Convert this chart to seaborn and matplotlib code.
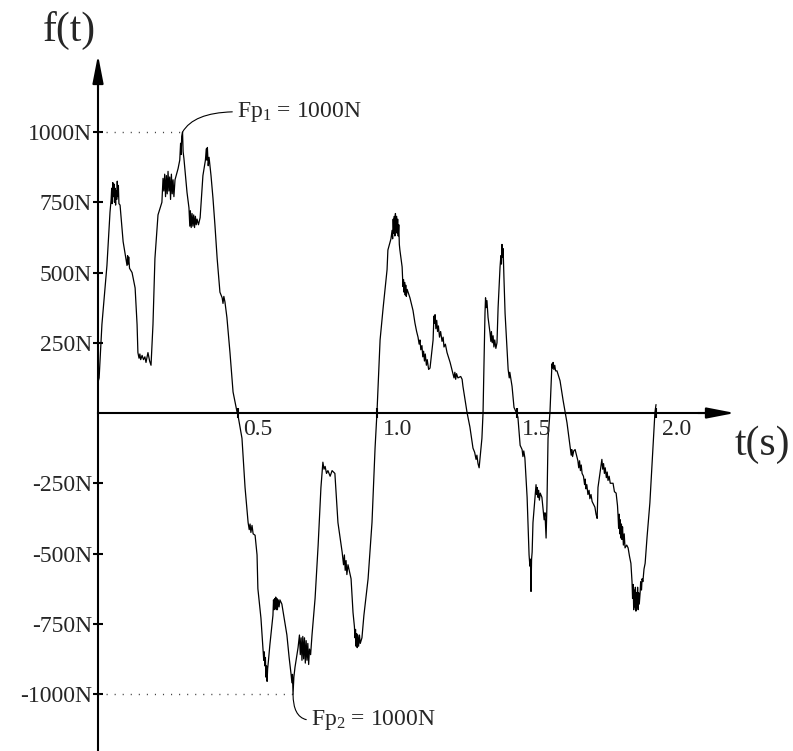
import numpy as np
import matplotlib
matplotlib.use('agg')
import matplotlib.pyplot as plt
import seaborn as sns

# force signal (time in s, force in N)
time_s = [
    0.000, 0.004, 0.014, 0.032, 0.043, 0.047, 0.049, 0.051, 0.053, 0.055,
    0.057, 0.059, 0.061, 0.063, 0.065, 0.067, 0.069, 0.071, 0.073, 0.075,
    0.079, 0.090, 0.104, 0.106, 0.108, 0.110, 0.113, 0.122, 0.133, 0.140,
    0.143, 0.147, 0.150, 0.153, 0.158, 0.163, 0.168, 0.172, 0.179, 0.185,
    0.190, 0.197, 0.204, 0.215, 0.229, 0.233, 0.236, 0.239, 0.242, 0.245,
    0.248, 0.251, 0.254, 0.257, 0.260, 0.263, 0.266, 0.269, 0.272, 0.276,
    0.287, 0.293, 0.296, 0.298, 0.300, 0.303, 0.305, 0.308, 0.319, 0.326,
    0.329, 0.331, 0.334, 0.337, 0.340, 0.343, 0.346, 0.349, 0.352, 0.355,
    0.360, 0.366, 0.376, 0.385, 0.388, 0.390, 0.392, 0.395, 0.398, 0.405,
    0.412, 0.419, 0.427, 0.437, 0.445, 0.448, 0.451, 0.455, 0.462, 0.473,
    0.484, 0.498,
    0.502, 0.516, 0.527, 0.538, 0.542, 0.545, 0.548, 0.552, 0.556, 0.563,
    0.570, 0.573, 0.584, 0.591, 0.594, 0.596, 0.598, 0.600, 0.602, 0.604,
    0.606, 0.608, 0.611, 0.616, 0.627, 0.629, 0.631, 0.633, 0.635, 0.637,
    0.639, 0.641, 0.643, 0.646, 0.649, 0.652, 0.659, 0.667, 0.677, 0.685,
    0.692, 0.695, 0.697, 0.699, 0.702, 0.706, 0.717, 0.722, 0.725, 0.728,
    0.731, 0.734, 0.737, 0.740, 0.743, 0.746, 0.749, 0.752, 0.755, 0.758,
    0.762, 0.767, 0.778, 0.789, 0.799, 0.806, 0.810, 0.814, 0.819, 0.824,
    0.832, 0.839, 0.849, 0.860, 0.875, 0.880, 0.883, 0.886, 0.889, 0.892,
    0.896, 0.907, 0.914, 0.919, 0.921, 0.923, 0.925, 0.927, 0.929, 0.931,
    0.934, 0.937, 0.940, 0.946, 0.953, 0.968, 0.982, 0.993, 1.000,
    1.011, 1.022, 1.036, 1.039, 1.050, 1.054, 1.056, 1.058, 1.060, 1.062,
    1.064, 1.066, 1.068, 1.070, 1.072, 1.074, 1.076, 1.078, 1.080, 1.082,
    1.090, 1.093, 1.095, 1.097, 1.099, 1.101, 1.103, 1.105, 1.108, 1.118,
    1.129, 1.136, 1.142, 1.147, 1.151, 1.154, 1.157, 1.161, 1.164, 1.167,
    1.170, 1.173, 1.177, 1.180, 1.185, 1.190, 1.201, 1.204, 1.206, 1.208,
    1.211, 1.214, 1.217, 1.220, 1.224, 1.228, 1.233, 1.237, 1.240, 1.245,
    1.251, 1.262, 1.272, 1.276, 1.279, 1.282, 1.285, 1.290, 1.300, 1.305,
    1.308, 1.323, 1.333, 1.344, 1.350, 1.355, 1.358, 1.362, 1.366, 1.376,
    1.380, 1.387, 1.389, 1.391, 1.394, 1.398, 1.405, 1.408, 1.410, 1.413,
    1.416, 1.419, 1.422, 1.426, 1.430, 1.434, 1.441, 1.444, 1.446, 1.448,
    1.450, 1.452, 1.455, 1.459, 1.470, 1.474, 1.476, 1.484, 1.491, 1.500,
    1.505, 1.513, 1.520, 1.523, 1.526, 1.530, 1.538, 1.545, 1.548, 1.550,
    1.552, 1.554, 1.556, 1.559, 1.570, 1.572, 1.574, 1.577, 1.579, 1.582,
    1.585, 1.591, 1.596, 1.599, 1.602, 1.606, 1.609, 1.613, 1.620, 1.627,
    1.629, 1.631, 1.634, 1.637, 1.640, 1.645, 1.656, 1.667, 1.681, 1.692,
    1.696, 1.698, 1.701, 1.705, 1.710, 1.720, 1.723, 1.726, 1.729, 1.732,
    1.735, 1.740, 1.744, 1.746, 1.749, 1.752, 1.756, 1.760, 1.763, 1.767,
    1.771, 1.781, 1.785, 1.789, 1.792, 1.806, 1.809, 1.812, 1.815, 1.818,
    1.822, 1.825, 1.828, 1.832, 1.836, 1.846, 1.851, 1.857, 1.862, 1.864,
    1.866, 1.868, 1.870, 1.872, 1.874, 1.876, 1.878, 1.880, 1.883, 1.886,
    1.889, 1.895, 1.900, 1.905, 1.910, 1.914, 1.916, 1.918, 1.920, 1.922,
    1.924, 1.926, 1.928, 1.930, 1.932, 1.934, 1.936, 1.938, 1.940, 1.943,
    1.945, 1.948, 1.950, 1.953, 1.957, 1.961, 1.968, 1.978, 1.986, 1.996,
    2.000,
]
force_n = [
    110, 125, 315, 525, 715, 760, 800, 745, 820, 770,
    815, 750, 800, 740, 790, 760, 825, 770, 810, 745,
    740, 610, 525, 560, 530, 555, 515, 500, 445, 315,
    215, 195, 210, 190, 205, 190, 200, 180, 215, 185,
    170, 315, 550, 705, 750, 835, 790, 850, 770, 845,
    780, 860, 790, 840, 760, 850, 780, 830, 770, 830,
    870, 900, 960, 920, 985, 1000, 930, 905, 785, 730,
    665, 720, 660, 710, 665, 705, 660, 700, 670, 690,
    670, 695, 845, 900, 940, 900, 945, 880, 910, 845,
    765, 670, 550, 430, 410, 390, 415, 395, 340, 215,
    75, 5,
    -10, -90, -265, -390, -415, -395, -425, -400, -430, -435,
    -505, -625, -730, -835, -880, -850, -900, -870, -940, -900,
    -955, -910, -880, -825, -720, -665, -700, -660, -695, -655,
    -700, -660, -700, -665, -690, -665, -680, -730, -790, -870,
    -930, -960, -930, -1000, -940, -905, -835, -790, -860, -800,
    -880, -795, -875, -800, -890, -810, -880, -820, -895, -840,
    -860, -790, -660, -470, -265, -175, -200, -190, -215, -205,
    -225, -205, -215, -390, -495, -540, -505, -560, -525, -575,
    -540, -590, -710, -760, -800, -770, -830, -785, -835, -790,
    -830, -790, -820, -800, -720, -590, -390, -125, 5,
    260, 375, 510, 580, 620, 650, 620, 690, 640, 700,
    630, 710, 650, 700, 640, 690, 630, 670, 600, 580,
    520, 450, 475, 430, 465, 420, 455, 415, 440, 410,
    365, 320, 290, 270, 245, 260, 225, 240, 200, 220,
    185, 210, 170, 190, 155, 160, 260, 345, 320, 350,
    300, 330, 290, 310, 270, 290, 255, 270, 235, 245,
    215, 180, 140, 125, 145, 120, 140, 125, 130, 120,
    95, 0, -50, -125, -140, -165, -150, -180, -195, -90,
    0, 355, 410, 375, 400, 340, 285, 255, 290, 250,
    275, 235, 260, 230, 250, 375, 520, 560, 530, 600,
    555, 585, 480, 355, 155, 125, 145, 95, 20, 0,
    -15, -115, -130, -155, -135, -160, -300, -505, -545, -520,
    -635, -520, -495, -390, -255, -290, -265, -300, -275, -310,
    -285, -300, -350, -380, -355, -445, -330, -90, 5, 175,
    160, 180, 155, 170, 150, 150, 115, 45, -35, -120,
    -150, -130, -155, -135, -130, -170, -195, -170, -205, -185,
    -215, -225, -255, -235, -270, -255, -290, -275, -305, -290,
    -315, -335, -360, -375, -265, -165, -200, -180, -215, -195,
    -230, -210, -240, -225, -250, -250, -280, -285, -330, -365,
    -410, -360, -430, -380, -445, -395, -450, -405, -470, -430,
    -480, -470, -480, -510, -535, -600, -660, -610, -700, -630,
    -690, -620, -705, -640, -690, -620, -700, -640, -680, -640,
    -600, -630, -590, -600, -555, -535, -440, -320, -180, 0,
    30,
]
assert len(time_s) == len(force_n)

x_ticks = [0.5, 1.0, 1.5, 2.0]
x_labels = ['0.5', '1.0', '1.5', '2.0']
y_ticks = [-1000, -750, -500, -250, 250, 500, 750, 1000]
y_labels = ['-1000N', '-750N', '-500N', '-250N', '250N', '500N', '750N', '1000N']

sns.set_style("white")
plt.rcParams['font.family'] = ['Liberation Serif', 'DejaVu Serif']
plt.rcParams['mathtext.fontset'] = 'custom'
plt.rcParams['mathtext.rm'] = 'Liberation Serif'
plt.rcParams['mathtext.it'] = 'Liberation Serif:italic'

fig = plt.figure(figsize=(7.93, 7.51), dpi=100)
ax = fig.add_axes([0, 0, 1, 1])
ax.set_facecolor('white')

sns.lineplot(x=time_s, y=force_n, color='black', lw=0.9, ax=ax,
             estimator=None, sort=False)
ax.set_xlim(-0.3513, 2.491)
ax.set_ylim(-1202.8, 1469.8)

# axes through the origin with arrows
for s in ['top', 'right']:
    ax.spines[s].set_visible(False)
ax.spines['left'].set_position(('data', 0))
ax.spines['bottom'].set_position(('data', 0))
ax.spines['left'].set_bounds(-1210, 1200)
ax.spines['bottom'].set_bounds(0, 2.2)
for s in ['left', 'bottom']:
    ax.spines[s].set_linewidth(1.5)
    ax.spines[s].set_color('black')

arrow = dict(arrowstyle='-|>,head_length=1.7,head_width=0.33', color='black',
             lw=1.5, mutation_scale=10, shrinkA=0, shrinkB=0)
ax.annotate('', xy=(0, 1274), xytext=(0, 1150), arrowprops=arrow)
ax.annotate('', xy=(2.283, 0), xytext=(2.15, 0), arrowprops=arrow)

ax.set_xticks(x_ticks)
ax.set_xticklabels([])
ax.set_yticks(y_ticks)
ax.set_yticklabels(y_labels, fontsize=17)
ax.tick_params(bottom=True, left=True, direction='inout', length=7,
               width=1.5, color='black', pad=1)
for v, lbl in zip(x_ticks, x_labels):
    ax.annotate(lbl, xy=(v, 0), xytext=(4, -4), textcoords='offset points',
                ha='left', va='top', fontsize=17)

fig.text(43 / 793, 1 - 11 / 751, 'f(t)', ha='left', va='top', fontsize=30)
fig.text(735 / 793, 1 - 426 / 751, 't(s)', ha='left', va='top', fontsize=30)

# peak markers
f = np.array(force_n)
t = np.array(time_s)
i_max, i_min = np.argmax(f), np.argmin(f)
dots = dict(ls=(0, (0.8, 5)), color='#444444', lw=1.0)
ax.plot([0, t[i_max]], [f[i_max], f[i_max]], **dots)
ax.plot([0, t[i_min]], [f[i_min], f[i_min]], **dots)

ax.annotate(r'F$\mathrm{p}_1$ = 1000N', xy=(t[i_max], f[i_max]), xytext=(0.498, 1072),
            ha='left', va='center', fontsize=17,
            arrowprops=dict(arrowstyle='-', color='black', lw=0.8, shrinkA=1, shrinkB=0,
                            relpos=(0, 0.5), connectionstyle='angle3,angleA=0,angleB=60'))
ax.annotate(r'F$\mathrm{p}_2$ = 1000N', xy=(t[i_min], f[i_min]), xytext=(0.763, -1093),
            ha='left', va='center', fontsize=17,
            arrowprops=dict(arrowstyle='-', color='black', lw=0.8, shrinkA=1, shrinkB=0,
                            relpos=(0, 0.5), connectionstyle='angle3,angleA=0,angleB=90'))

fig.savefig('out.png', dpi=100)
